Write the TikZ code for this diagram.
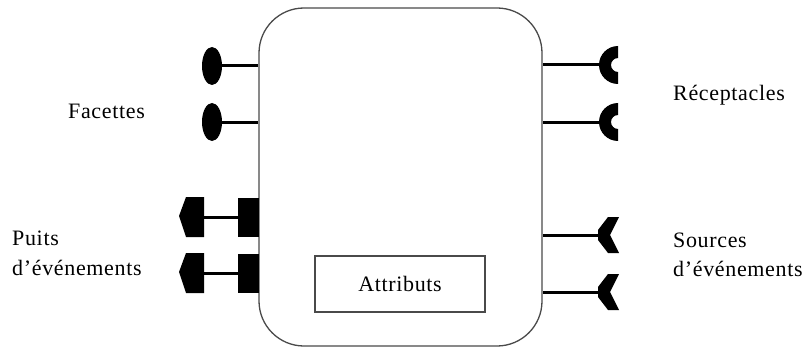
\documentclass[tikz,border=0pt]{standalone}
\usepackage{fontspec}
\newfontfamily\lbl[LetterSpace=3]{Liberation Serif}
\definecolor{boxgray}{HTML}{4A4A4A}
\tikzset{
  lbltext/.style={font=\lbl\fontsize{22}{26}\selectfont, inner sep=0pt, anchor=base west},
  conn/.style={line width=3pt, black},
  termfill/.style={fill=black},
}
\begin{document}
\begin{tikzpicture}[x=1pt,y=-1pt]
\useasboundingbox[fill=white] (0,0) rectangle (810,350);
% component
\node[draw=boxgray, line width=1.3pt, rounded corners=45pt, minimum width=283pt, minimum height=338pt, inner sep=0pt] (comp) at (400.5,177) {};
\node[draw=boxgray, line width=1.3pt, minimum width=170pt, minimum height=56pt, inner sep=0pt, font=\lbl\fontsize{22}{26}\selectfont] (attr) at (400,284) {Attributs};
% facettes
\foreach \n/\yc in {f1/66, f2/122}{
  \fill[termfill] (212,\yc) ellipse[x radius=10pt, y radius=19pt];
  \coordinate (\n) at (218,\yc);
  \draw[conn] (\n) -- (\n -| comp.west);
}
% puits
\foreach \n/\yc in {p1/217, p2/273}{
  \fill[termfill] (204,\yc-20) -- (186,\yc-20) -- (179,\yc-1) -- (186,\yc+20) -- (204,\yc+20) -- cycle;
  \fill[termfill] (238,\yc-19.5) rectangle (258.5,\yc+19.5);
  \coordinate (\n) at (202,\yc);
  \coordinate (\n b) at (239,\yc);
  \draw[conn] (\n) -- (\n b);
}
% receptacles
\foreach \n/\yc in {r1/65, r2/122}{
  \fill[termfill] (618,\yc) ++(0pt,19pt) arc[start angle=90, end angle=270, radius=19pt] -- ++(0pt,12pt) arc[start angle=270, end angle=90, radius=7pt] -- cycle;
  \coordinate (\n) at (601,\yc);
  \draw[conn] (\n) -- (\n -| comp.east);
}
% sources
\foreach \n/\yc in {s1/235, s2/292}{
  \fill[termfill] (598,\yc-5) -- (608,\yc-18) -- (619,\yc-18) -- (610,\yc) -- (619,\yc+18) -- (608,\yc+18) -- (598,\yc+5) -- cycle;
  \coordinate (\n) at (600,\yc);
  \draw[conn] (\n) -- (\n -| comp.east);
}
% labels
\node[lbltext] (lfac) at (68,118) {Facettes};
\node[lbltext] (lrec) at (673,100) {Réceptacles};
\node[lbltext] (lpu1) at (12,245) {Puits};
\node[lbltext] (lpu2) at (12,275) {d’événements};
\node[lbltext] (lso1) at (673,247) {Sources};
\node[lbltext] (lso2) at (673,276) {d’événements};
\end{tikzpicture}
\end{document}
